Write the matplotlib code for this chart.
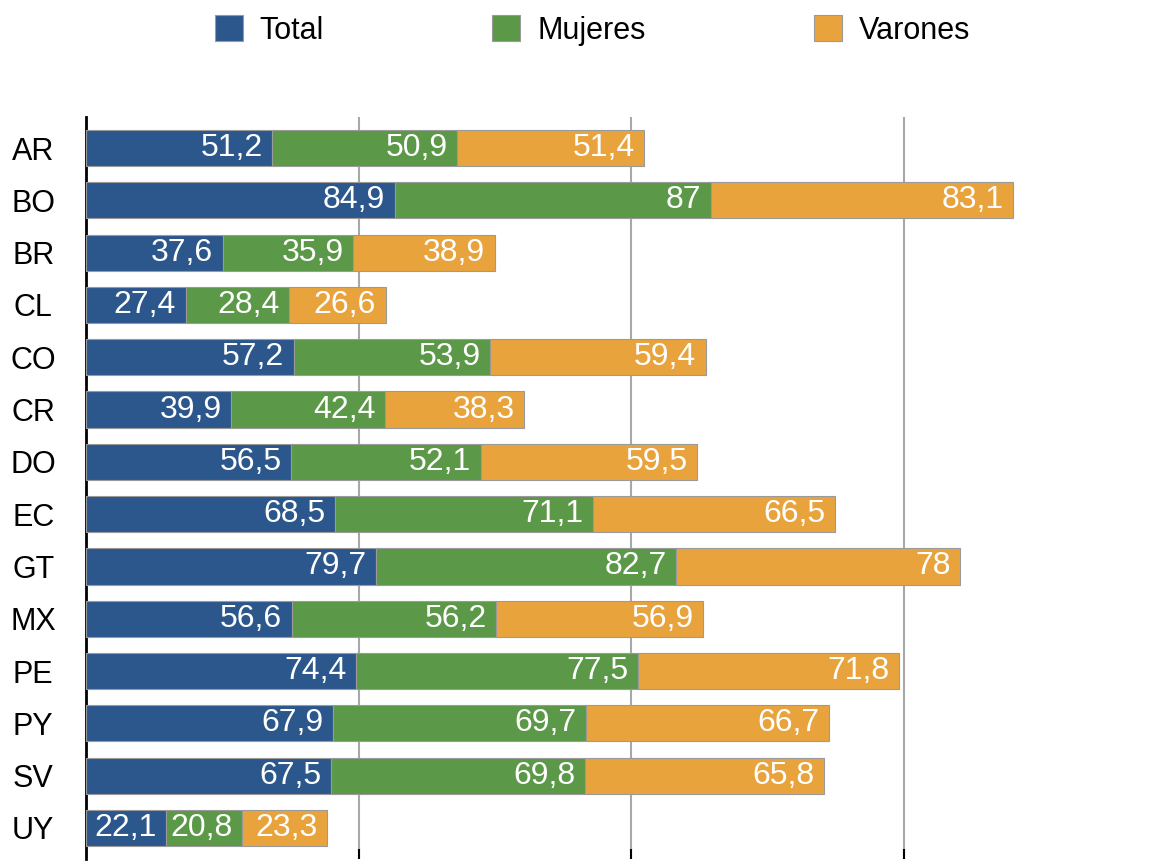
import matplotlib
matplotlib.use("Agg")
import numpy as np
import matplotlib.pyplot as plt
from matplotlib.patches import Patch

plt.rcParams['font.family'] = ['Liberation Sans', 'DejaVu Sans']

paises = ["AR", "BO", "BR", "CL", "CO", "CR", "DO", "EC", "GT", "MX", "PE", "PY", "SV", "UY"]
total = [51.2, 84.9, 37.6, 27.4, 57.2, 39.9, 56.5, 68.5, 79.7, 56.6, 74.4, 67.9, 67.5, 22.1]
mujeres = [50.9, 87, 35.9, 28.4, 53.9, 42.4, 52.1, 71.1, 82.7, 56.2, 77.5, 69.7, 69.8, 20.8]
varones = [51.4, 83.1, 38.9, 26.6, 59.4, 38.3, 59.5, 66.5, 78, 56.9, 71.8, 66.7, 65.8, 23.3]

series = [("Total", total, "#2C578C"),
          ("Mujeres", mujeres, "#5B9847"),
          ("Varones", varones, "#E9A33C")]

def fmt(v):
    s = ("%.1f" % v).rstrip("0").rstrip(".")
    return s.replace(".", ",")

fig = plt.figure(figsize=(11.65, 8.63), dpi=100)
ax = fig.add_axes([86 / 1165, 1 - 859 / 863, 1 - 86 / 1165, 742 / 863])

y = np.arange(len(paises))
left = np.zeros(len(paises))
for name, vals, col in series:
    vals = np.array(vals)
    bars = ax.barh(y, vals, left=left, height=0.69, color=col,
                   edgecolor="#9a9a9a", linewidth=0.8, zorder=3)
    for b, v in zip(bars, vals):
        ax.text(b.get_x() + b.get_width() - 2.6, b.get_y() + b.get_height() / 2,
                fmt(v), ha="right", va="center", color="white",
                fontsize=23, zorder=4)
    left = left + vals

ax.set_xlim(0, (1165 - 86) / 3.635)
ax.set_ylim(len(paises) - 1 + 0.593, -0.593)
ax.set_yticks(y)
ax.set_yticklabels(paises, fontsize=22)
ax.set_xticks([75, 150, 225])
ax.set_xticklabels([])
ax.tick_params(axis="y", length=0, pad=38)
for lab in ax.get_yticklabels():
    lab.set_horizontalalignment("center")
ax.tick_params(axis="x", direction="in", length=7, width=1.5, color="black")
ax.grid(axis="x", color="#a8a8a8", linewidth=1.5, zorder=0)
for s in ["top", "right", "bottom"]:
    ax.spines[s].set_visible(False)
ax.spines["left"].set_linewidth(2)

handles = [Patch(facecolor=c, edgecolor="#9a9a9a", linewidth=0.8) for _, _, c in series]
fig.legend(handles, [n for n, _, _ in series], loc="upper center",
           bbox_to_anchor=(0.5086, 1.014), ncol=3, frameon=False, fontsize=22,
           handlelength=0.92, handleheight=0.92, columnspacing=5.5, handletextpad=0.56)

fig.savefig("out.png", dpi=100)
